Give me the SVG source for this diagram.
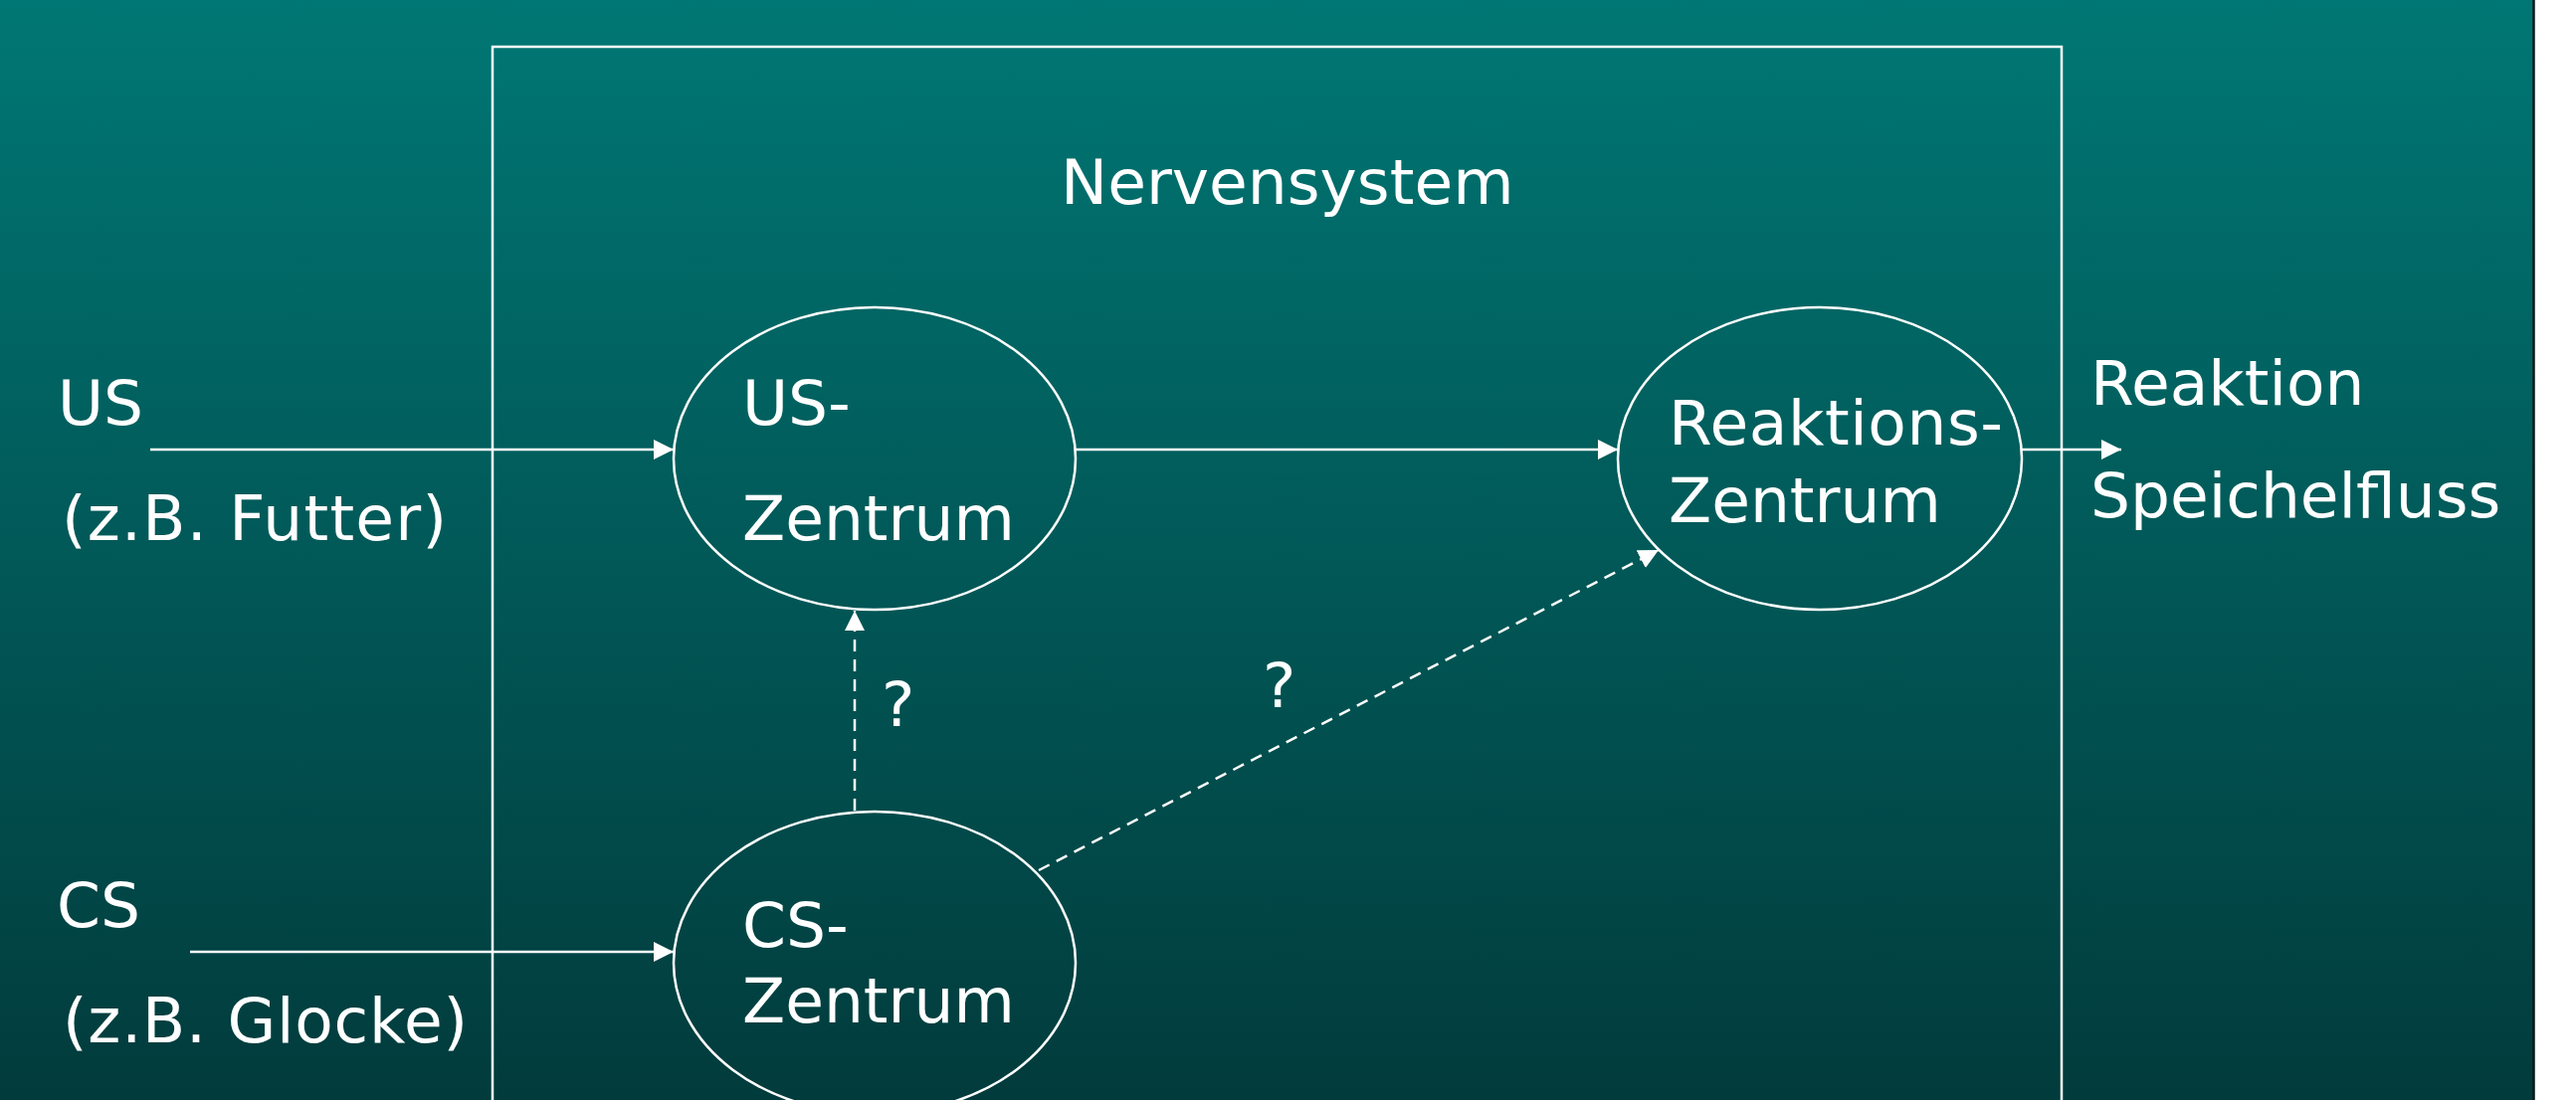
<svg xmlns="http://www.w3.org/2000/svg" width="2589" height="1106" viewBox="0 0 2589 1106">
<defs>
<linearGradient id="bg" x1="0" y1="0" x2="0" y2="1">
<stop offset="0" stop-color="#007774"/>
<stop offset="1" stop-color="#023b3c"/>
</linearGradient>
<marker id="ah" viewBox="0 0 20 20" refX="20" refY="10" markerWidth="20" markerHeight="20" markerUnits="userSpaceOnUse" orient="auto">
<path d="M0,0 L20,10 L0,20 Z" fill="#ffffff"/>
</marker>
<style>
.t{font-family:"DejaVu Sans","Verdana",sans-serif;font-size:63px;fill:#ffffff}
.node{fill:none;stroke:#ffffff;stroke-width:2.5}
.c{fill:none;stroke:#ffffff;stroke-width:2.5}
.d{stroke-dasharray:12 8}
</style>
</defs>
<rect x="0" y="0" width="2589" height="1106" fill="#ffffff"/>
<rect x="0" y="0" width="2546" height="1106" fill="url(#bg)"/>
<line x1="2546.5" y1="0" x2="2546.5" y2="1106" stroke="#061818" stroke-width="2.5"/>

<g id="nervensystem">
<rect x="495" y="47" width="1577" height="1120" fill="none" stroke="#ffffff" stroke-width="2.5"/>
<text class="t" x="1066" y="205">Nervensystem</text>
</g>

<g id="us">
<text class="t" x="58" y="427">US</text>
<text class="t" x="62" y="543" textLength="387" lengthAdjust="spacing">(z.B. Futter)</text>
</g>
<g id="cs">
<text class="t" x="57" y="932">CS</text>
<text class="t" x="63" y="1048" textLength="407" lengthAdjust="spacing">(z.B. Glocke)</text>
</g>
<g id="us-zentrum">
<ellipse class="node" cx="879" cy="461" rx="202" ry="152"/>
<text class="t" x="746" y="427">US-</text>
<text class="t" x="746" y="543">Zentrum</text>
</g>
<g id="reaktions-zentrum">
<ellipse class="node" cx="1829" cy="461" rx="203" ry="152"/>
<text class="t" x="1677" y="447" textLength="336" lengthAdjust="spacing">Reaktions-</text>
<text class="t" x="1677" y="525">Zentrum</text>
</g>
<g id="cs-zentrum">
<ellipse class="node" cx="879" cy="968" rx="202" ry="152"/>
<text class="t" x="746" y="952">CS-</text>
<text class="t" x="746" y="1028">Zentrum</text>
</g>
<g id="reaktion">
<text class="t" x="2101" y="407">Reaktion</text>
<text class="t" x="2101" y="520">Speichelfluss</text>
</g>

<g id="connectors">
<line class="c" x1="151" y1="452" x2="677" y2="452" marker-end="url(#ah)"/>
<line class="c" x1="1081" y1="452" x2="1626" y2="452" marker-end="url(#ah)"/>
<line class="c" x1="2032" y1="452" x2="2132" y2="452" marker-end="url(#ah)"/>
<line class="c" x1="191" y1="957" x2="677" y2="957" marker-end="url(#ah)"/>
<line class="c d" x1="859" y1="815" x2="859" y2="614" marker-end="url(#ah)"/>
<line class="c d" x1="1044" y1="875" x2="1667" y2="553" marker-end="url(#ah)"/>
<text class="t" x="886" y="730">?</text>
<text class="t" x="1269" y="711">?</text>
</g>
</svg>
